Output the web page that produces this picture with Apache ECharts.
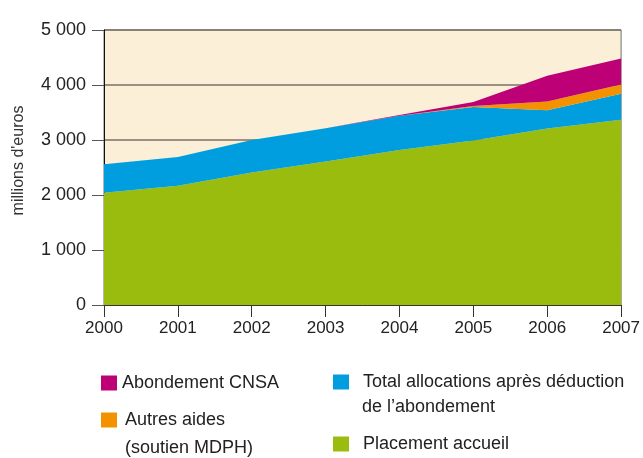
<!DOCTYPE html>
<html>
<head>
<meta charset="utf-8">
<script src="https://cdn.jsdelivr.net/npm/echarts@6/dist/echarts.min.js"></script>
<style>
html, body { margin: 0; padding: 0; background: #fff; }
#chart { width: 643px; height: 458px; }
</style>
</head>
<body>
<div id="chart"></div>
<script>
(function(){
    // années
    var years = ['2000', '2001', '2002', '2003', '2004', '2005', '2006', '2007'];
    // millions d'euros, empilés
    var placement = [2040, 2170, 2410, 2610, 2820, 2990, 3210, 3370];
    var allocations = [520, 520, 590, 605, 620, 610, 330, 470];
    var autresAides = [0, 0, 0, 0, 0, 20, 160, 170];
    var abondement = [0, 0, 0, 0, 15, 70, 470, 470];

    var font = 'Liberation Sans, Arial, sans-serif';

    function area(name, color, data){
        return {
            name: name,
            type: 'line',
            stack: 'total',
            symbol: 'none',
            silent: true,
            color: color,
            lineStyle: {width: 0},
            areaStyle: {color: color, opacity: 1},
            data: data
        };
    }

    function legend(name, left, top, gap){
        return {
            data: [name],
            left: left,
            top: top,
            padding: 0,
            icon: 'rect',
            itemWidth: 16,
            itemHeight: 15,
            selectedMode: false,
            textStyle: {
                fontFamily: font,
                fontSize: 18,
                color: '#222',
                padding: [0, 0, 0, gap]
            }
        };
    }

    // deuxième ligne des libellés de légende
    function line2(text, left, top){
        return {
            type: 'text',
            left: left,
            top: top,
            silent: true,
            style: {text: text, font: '18px ' + font, fill: '#222'}
        };
    }

    var myChart = echarts.init(document.getElementById('chart'), null, {renderer: 'canvas'});
    myChart.setOption({
        animation: false,
        grid: {
            left: 104, right: 21, top: 30, bottom: 153,
            show: true,
            backgroundColor: '#FCEFD7',
            borderColor: '#6e6e6e',
            borderWidth: 1
        },
        xAxis: {
            type: 'category',
            data: years,
            boundaryGap: false,
            axisLine: {lineStyle: {color: '#333', width: 1}},
            axisTick: {length: 12, lineStyle: {color: '#333'}},
            axisLabel: {margin: 15, fontFamily: font, fontSize: 17, color: '#222'}
        },
        yAxis: {
            type: 'value',
            min: 0, max: 5000, interval: 1000,
            name: "millions d'euros",
            nameLocation: 'middle',
            nameRotate: 90,
            nameGap: 77,
            nameTextStyle: {fontFamily: font, fontSize: 16, color: '#333', padding: [0, 0, 0, 14]},
            axisLine: {show: true, lineStyle: {color: '#111', width: 1}},
            axisTick: {show: true, length: 12, lineStyle: {color: '#555'}},
            splitLine: {lineStyle: {color: '#7b7164', width: 1.5}},
            axisLabel: {
                margin: 18,
                fontFamily: font, fontSize: 18, color: '#222',
                padding: [0, 0, 14, 0],
                formatter: function(v){
                    return String(v).replace(/\B(?=(\d{3})+(?!\d))/g, ' ');
                }
            }
        },
        legend: [
            legend('Abondement CNSA', 101, 374, 0),
            legend('Autres aides', 101, 411, 3),
            legend('Total allocations', 333, 373, 9),
            legend('Placement accueil', 333, 435, 9)
        ],
        graphic: [
            line2('(soutien MDPH)', 125, 439),
            line2('de l\u2019abondement', 362, 398)
        ],
        series: [
            area('Placement accueil', '#99BC0E', placement),
            area('Total allocations', '#009EDF', allocations),
            area('Autres aides', '#F39200', autresAides),
            area('Abondement CNSA', '#BE0077', abondement)
        ]
    });
    myChart.setOption({
        legend: [
            {},
            {},
            {formatter: function(){ return 'Total allocations après déduction'; }},
            {}
        ]
    });
}());
</script>
</body>
</html>
